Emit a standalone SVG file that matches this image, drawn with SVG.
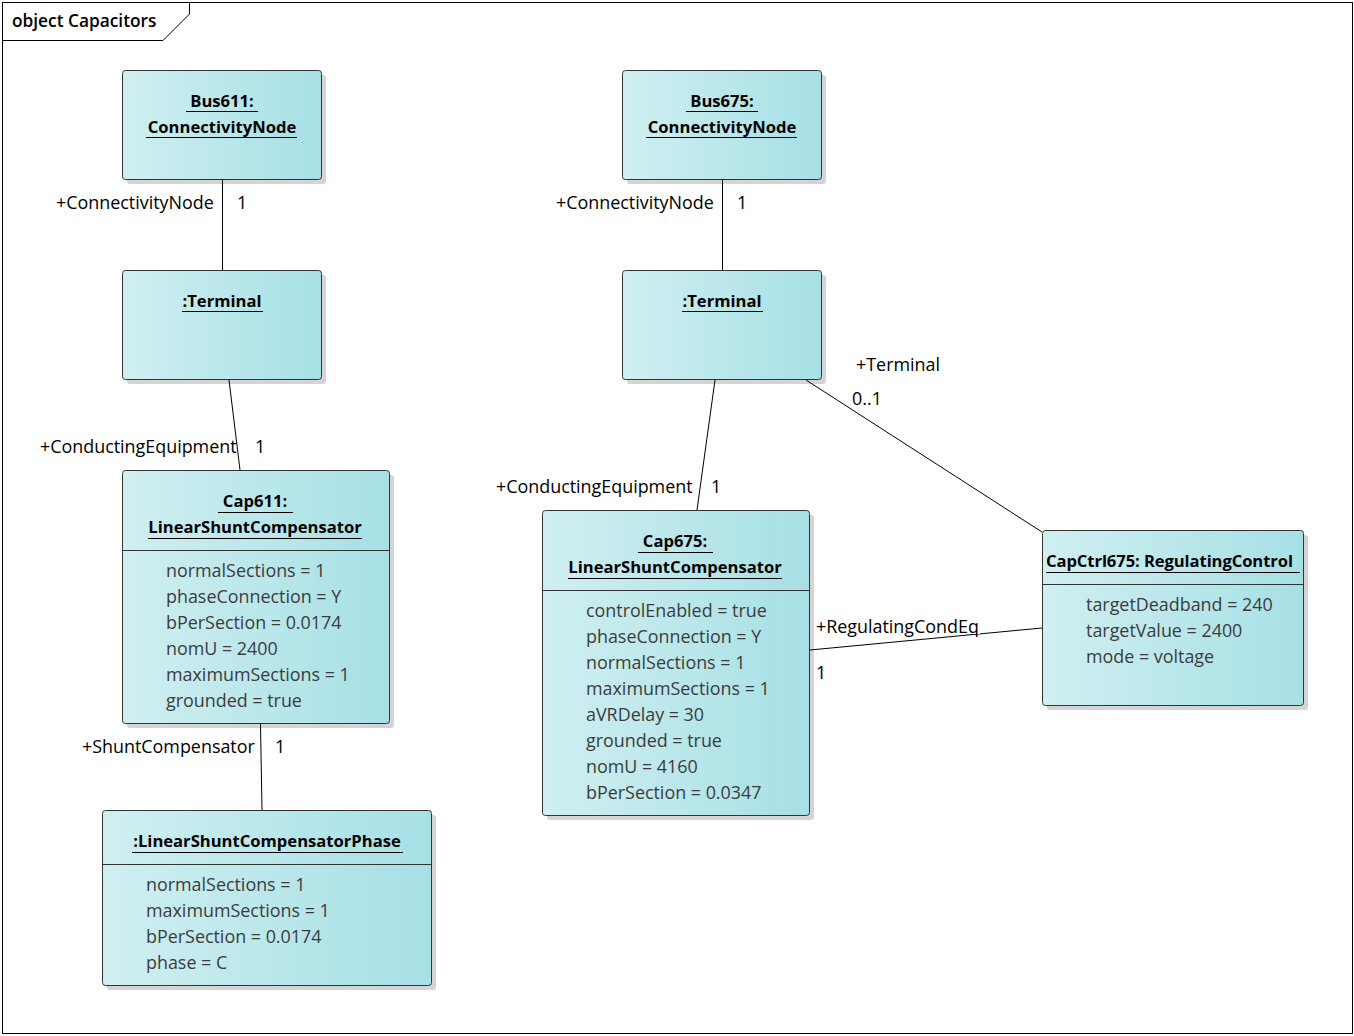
<svg xmlns="http://www.w3.org/2000/svg" width="1354" height="1036" viewBox="0 0 1354 1036">
<defs>
<linearGradient id="g" x1="0" y1="0" x2="1" y2="0">
<stop offset="0" stop-color="#d0eff1"/>
<stop offset="1" stop-color="#a6e0e5"/>
</linearGradient>
</defs>
<style>
.box{fill:url(#g);stroke:#333;stroke-width:1}
.sh{fill:#d4d4d4}
.div{stroke:#333;stroke-width:1}
.t{font-family:"Open Sans","Noto Sans",sans-serif;font-size:16.6px;font-weight:bold;fill:#000;text-anchor:middle}
.ul{stroke:#000;stroke-width:1}
.a{font-family:"Open Sans","Noto Sans",sans-serif;font-size:17.9px;fill:#3c3c3c}
.l{font-family:"Open Sans","Noto Sans",sans-serif;font-size:17.9px;fill:#000}
.c{stroke:#000;stroke-width:1;fill:none}
.lb{fill:#fff}
</style>
<rect width="1354" height="1036" fill="#fff"/>
<g id="frame">
<rect x="2.5" y="2.5" width="1350" height="1031" fill="none" stroke="#000"/>
<path d="M2.5,40.5 H163 L189.5,14 V2.5" fill="none" stroke="#000"/>
<text class="l" x="12" y="27" style="font-size:17.3px;font-weight:600">object Capacitors</text>
</g>
<g id="bus611">
<rect class="sh" x="127" y="75" width="199" height="109" rx="3"/>
<rect class="box" x="122.5" y="70.5" width="199" height="109" rx="3"/>
<text class="t" x="222" y="107">Bus611:</text>
<line class="ul" x1="186" y1="111.5" x2="258" y2="111.5"/>
<text class="t" x="222" y="133">ConnectivityNode</text>
<line class="ul" x1="146" y1="137.5" x2="297" y2="137.5"/>
</g>
<g id="bus675">
<rect class="sh" x="627" y="75" width="199" height="109" rx="3"/>
<rect class="box" x="622.5" y="70.5" width="199" height="109" rx="3"/>
<text class="t" x="722" y="107">Bus675:</text>
<line class="ul" x1="686" y1="111.5" x2="758" y2="111.5"/>
<text class="t" x="722" y="133">ConnectivityNode</text>
<line class="ul" x1="646" y1="137.5" x2="797" y2="137.5"/>
</g>
<g id="terminal611">
<rect class="sh" x="127" y="275" width="199" height="109" rx="3"/>
<rect class="box" x="122.5" y="270.5" width="199" height="109" rx="3"/>
<text class="t" x="222" y="307">:Terminal</text>
<line class="ul" x1="182" y1="311.5" x2="263" y2="311.5"/>
</g>
<g id="terminal675">
<rect class="sh" x="627" y="275" width="199" height="109" rx="3"/>
<rect class="box" x="622.5" y="270.5" width="199" height="109" rx="3"/>
<text class="t" x="722" y="307">:Terminal</text>
<line class="ul" x1="682" y1="311.5" x2="763" y2="311.5"/>
</g>
<g id="cap611">
<rect class="sh" x="127" y="475" width="267" height="253" rx="3"/>
<rect class="box" x="122.5" y="470.5" width="267" height="253" rx="3"/>
<text class="t" x="255" y="507">Cap611:</text>
<line class="ul" x1="218" y1="512.5" x2="293" y2="512.5"/>
<text class="t" x="255" y="533">LinearShuntCompensator</text>
<line class="ul" x1="148" y1="538.5" x2="362" y2="538.5"/>
<line class="div" x1="122.5" y1="550.5" x2="389.5" y2="550.5"/>
<text class="a" x="166" y="577">normalSections = 1</text>
<text class="a" x="166" y="603">phaseConnection = Y</text>
<text class="a" x="166" y="629">bPerSection = 0.0174</text>
<text class="a" x="166" y="655">nomU = 2400</text>
<text class="a" x="166" y="681">maximumSections = 1</text>
<text class="a" x="166" y="707">grounded = true</text>
</g>
<g id="cap675">
<rect class="sh" x="547" y="515" width="267" height="305" rx="3"/>
<rect class="box" x="542.5" y="510.5" width="267" height="305" rx="3"/>
<text class="t" x="675" y="547">Cap675:</text>
<line class="ul" x1="638" y1="552.5" x2="713" y2="552.5"/>
<text class="t" x="675" y="573">LinearShuntCompensator</text>
<line class="ul" x1="568" y1="578.5" x2="782" y2="578.5"/>
<line class="div" x1="542.5" y1="590.5" x2="809.5" y2="590.5"/>
<text class="a" x="586" y="617">controlEnabled = true</text>
<text class="a" x="586" y="643">phaseConnection = Y</text>
<text class="a" x="586" y="669">normalSections = 1</text>
<text class="a" x="586" y="695">maximumSections = 1</text>
<text class="a" x="586" y="721">aVRDelay = 30</text>
<text class="a" x="586" y="747">grounded = true</text>
<text class="a" x="586" y="773">nomU = 4160</text>
<text class="a" x="586" y="799">bPerSection = 0.0347</text>
</g>
<g id="capctrl675">
<rect class="sh" x="1047" y="535" width="261" height="175" rx="3"/>
<rect class="box" x="1042.5" y="530.5" width="261" height="175" rx="3"/>
<text class="t" x="1046" y="567" textLength="247" lengthAdjust="spacing" style="text-anchor:start">CapCtrl675: RegulatingControl</text>
<line class="ul" x1="1046" y1="572.5" x2="1300" y2="572.5"/>
<line class="div" x1="1042.5" y1="584.5" x2="1303.5" y2="584.5"/>
<text class="a" x="1086" y="611">targetDeadband = 240</text>
<text class="a" x="1086" y="637">targetValue = 2400</text>
<text class="a" x="1086" y="663">mode = voltage</text>
</g>
<g id="lscphase">
<rect class="sh" x="107" y="815" width="329" height="175" rx="3"/>
<rect class="box" x="102.5" y="810.5" width="329" height="175" rx="3"/>
<text class="t" x="267" y="847">:LinearShuntCompensatorPhase</text>
<line class="ul" x1="132" y1="852.5" x2="403" y2="852.5"/>
<line class="div" x1="102.5" y1="864.5" x2="431.5" y2="864.5"/>
<text class="a" x="146" y="891">normalSections = 1</text>
<text class="a" x="146" y="917">maximumSections = 1</text>
<text class="a" x="146" y="943">bPerSection = 0.0174</text>
<text class="a" x="146" y="969">phase = C</text>
</g>
<g id="connectors">
<line class="c" x1="222.5" y1="180" x2="222.5" y2="270"/>
<line class="c" x1="229" y1="380" x2="240" y2="470"/>
<line class="c" x1="260.5" y1="724" x2="262" y2="810"/>
<line class="c" x1="722.5" y1="180" x2="722.5" y2="270"/>
<line class="c" x1="715" y1="380" x2="697" y2="510"/>
<line class="c" x1="806" y1="380" x2="1042" y2="532"/>
<line class="c" x1="810" y1="650" x2="1042" y2="628"/>
<rect class="lb" x="946" y="620" width="34" height="14"/>
<text class="l" x="56" y="209">+ConnectivityNode</text>
<text class="l" x="237" y="209">1</text>
<text class="l" x="556" y="209">+ConnectivityNode</text>
<text class="l" x="737" y="209">1</text>
<text class="l" x="40" y="453">+ConductingEquipment</text>
<text class="l" x="255" y="453">1</text>
<text class="l" x="496" y="493">+ConductingEquipment</text>
<text class="l" x="711" y="493">1</text>
<text class="l" x="82" y="753">+ShuntCompensator</text>
<text class="l" x="275" y="753">1</text>
<text class="l" x="856" y="371">+Terminal</text>
<text class="l" x="852" y="405">0..1</text>
<text class="l" x="816" y="633">+RegulatingCondEq</text>
<text class="l" x="816" y="679">1</text>
</g>
</svg>
